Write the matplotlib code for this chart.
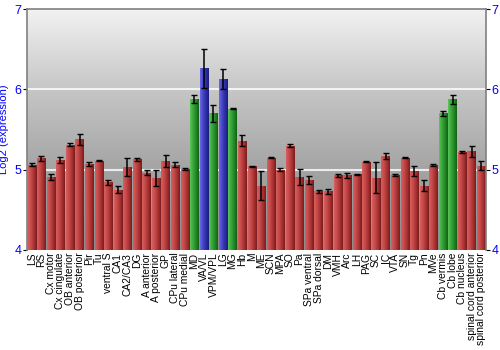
import numpy as np
import matplotlib
matplotlib.use("Agg")
import matplotlib.pyplot as plt
from matplotlib.colors import LinearSegmentedColormap

plt.rcParams['font.family'] = ['Liberation Sans', 'DejaVu Sans']

regions = ["LS", "RS", "Cx motor", "Cx cingulate", "OB anterior", "OB posterior",
           "Pir", "Tu", "ventral S", "CA1", "CA2/CA3", "DG", "A anterior",
           "A posterior", "GP", "CPu lateral", "CPu medial", "MD", "VA/VL",
           "VPM/VPL", "LG", "MG", "Hb", "M", "ME", "SCN", "MPA", "SO", "Pa",
           "SPa ventral", "SPa dorsal", "DM", "VMH", "Arc", "LH", "PAG", "SC",
           "IC", "VTA", "SN", "Tg", "Pn", "MVe", "Cb vermis", "Cb lobe",
           "Cb nucleus", "spinal cord anterior", "spinal cord posterior"]

expression = [5.06, 5.14, 4.91, 5.12, 5.31, 5.38, 5.07, 5.11, 4.84, 4.75,
              5.03, 5.13, 4.96, 4.90, 5.11, 5.06, 5.01, 5.875, 6.26, 5.70,
              6.13, 5.76, 5.36, 5.04, 4.80, 5.15, 5.00, 5.30, 4.91, 4.87,
              4.73, 4.73, 4.93, 4.93, 4.94, 5.10, 4.90, 5.17, 4.93, 5.15,
              4.98, 4.80, 5.06, 5.70, 5.875, 5.22, 5.23, 5.05]

errors = [0.02, 0.03, 0.04, 0.04, 0.02, 0.07, 0.03, 0.005, 0.03, 0.04,
          0.11, 0.02, 0.03, 0.10, 0.075, 0.03, 0.015, 0.05, 0.24, 0.11,
          0.12, 0.01, 0.07, 0.01, 0.18, 0.01, 0.02, 0.02, 0.10, 0.05,
          0.02, 0.03, 0.02, 0.03, 0.01, 0.01, 0.19, 0.04, 0.01, 0.01,
          0.06, 0.07, 0.01, 0.03, 0.06, 0.01, 0.07, 0.06]

# r = red, g = green, b = blue
groups = ["r"] * 17 + ["g", "b", "g", "b", "g"] + ["r"] * 21 + ["g", "g"] + ["r"] * 3

shades = {
    "r": ["#d46060", "#c84a4a", "#a83232", "#7a1c1c"],
    "g": ["#5cc45c", "#3aa83a", "#24892a", "#146014"],
    "b": ["#6a6ae0", "#4646c8", "#2e2ea8", "#1c1c78"],
}

fig = plt.figure(figsize=(5, 3.5), dpi=100)
ax = fig.add_axes([0.054, 0.286, 0.918, 0.688])

x = np.arange(len(regions))
ymin, ymax = 4, 7

# background gradient
bg = LinearSegmentedColormap.from_list("bg", ["#8c8c8c", "#a4a4a4", "#c6c6c6", "#f2f2f2"])
ax.imshow(np.linspace(0, 1, 256).reshape(-1, 1), cmap=bg, aspect="auto",
          extent=(-0.5, len(regions) - 0.5, ymin, ymax), origin="lower", zorder=0)

for yv in [5, 6]:
    ax.axhline(yv, color="white", lw=1.5, alpha=0.8, zorder=1)

bars = ax.bar(x, np.array(expression) - ymin, bottom=ymin, width=0.88,
              color="none", edgecolor="none", zorder=2)

grad = np.linspace(0, 1, 64).reshape(1, -1)
for b, g in zip(bars, groups):
    cm = LinearSegmentedColormap.from_list("c" + g, shades[g])
    x0, y0 = b.get_x(), b.get_y()
    im = ax.imshow(grad, cmap=cm, aspect="auto",
                   extent=(x0, x0 + b.get_width(), y0, y0 + b.get_height()),
                   zorder=2)
    im.set_clip_path(b)

ax.errorbar(x, expression, yerr=errors, fmt="none", ecolor="black",
            elinewidth=1.1, capsize=2.5, capthick=1, zorder=3)

ax.set_xlim(-0.5, len(regions) - 0.5)
ax.set_ylim(ymin, ymax)
ax.set_yticks([4, 5, 6, 7])
ax.set_xticks(x)
ax.set_xticklabels(regions, rotation=90, fontsize=7.4)
ax.tick_params(axis="x", length=0, pad=2)
ax.tick_params(axis="y", labelsize=9, labelcolor="blue", length=3,
               left=True, right=True, labelleft=True, labelright=True, pad=1)
ax.set_ylabel("Log2 (expression)", color="blue", fontsize=8)
ax.yaxis.set_label_coords(-0.04, 0.5)

for s in ax.spines.values():
    s.set_color("#808080")
    s.set_linewidth(1.2)
ax.spines["bottom"].set_visible(False)

fig.savefig("out.png", dpi=100)
